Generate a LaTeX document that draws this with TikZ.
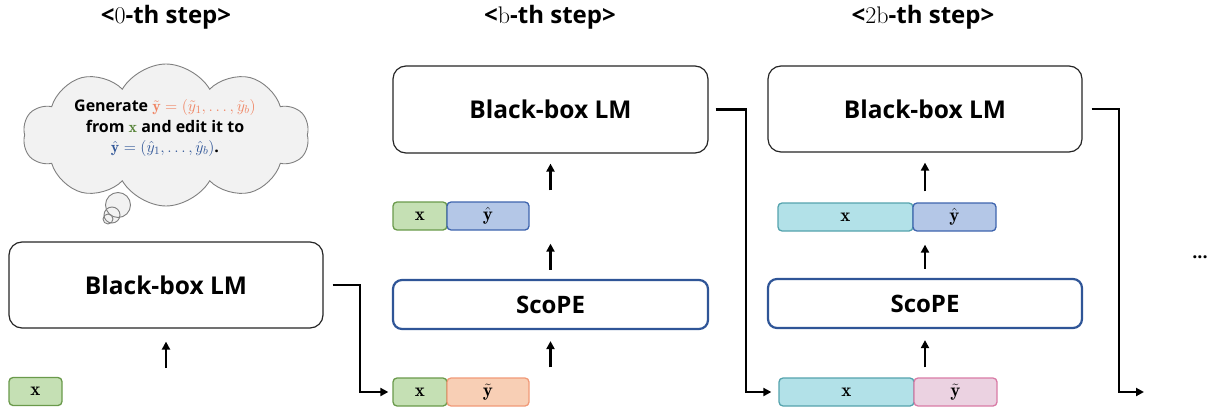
\RequirePackage{fix-cm}
\documentclass[tikz,border=0pt]{standalone}
\usepackage{amsmath}
\usepackage{fontspec}
\newfontfamily\ui{Open Sans}
\usetikzlibrary{arrows.meta,shapes.symbols,calc}
\definecolor{xgreenf}{HTML}{C5E0B4}
\definecolor{xgreend}{HTML}{6A9A4B}
\definecolor{yhatf}{HTML}{B4C7E7}
\definecolor{yhatd}{HTML}{3E64AE}
\definecolor{ytilf}{HTML}{F8CFB5}
\definecolor{ytild}{HTML}{F19A78}
\definecolor{tealf}{HTML}{B2E1E8}
\definecolor{teald}{HTML}{55A3AD}
\definecolor{pinkf}{HTML}{EBD2E1}
\definecolor{pinkd}{HTML}{D97BA6}
\definecolor{scopeblue}{HTML}{2F5597}
\definecolor{cloudf}{HTML}{F2F2F2}
\definecolor{cloudd}{HTML}{7F7F7F}
\definecolor{txtorange}{HTML}{F08462}
\definecolor{txtgreen}{HTML}{548235}
\definecolor{txtblue}{HTML}{2F5597}
\begin{document}
\begin{tikzpicture}[x=1pt,y=-1pt,
  lmbox/.style={draw=black!85, line width=1.2pt, rounded corners=13pt, fill=white,
    inner sep=0pt, font=\ui\bfseries\fontsize{24.5}{28}\selectfont},
  scbox/.style={draw=scopeblue, line width=2.2pt, rounded corners=9pt, fill=white,
    inner sep=0pt, font=\ui\bfseries\fontsize{24}{28}\selectfont},
  tok/.style={line width=1.3pt, rounded corners=4pt, minimum height=28pt,
    inner sep=0pt, font=\fontsize{19}{22}\selectfont},
  xg/.style={tok, draw=xgreend, fill=xgreenf},
  xt/.style={tok, draw=teald, fill=tealf},
  yh/.style={tok, draw=yhatd, fill=yhatf},
  yt/.style={tok, draw=ytild, fill=ytilf},
  yp/.style={tok, draw=pinkd, fill=pinkf},
  arr/.style={line width=2.2pt, -{Triangle[length=8pt,width=8pt]}},
  title/.style={font=\ui\bfseries\fontsize{24}{28}\selectfont, inner sep=0pt},
  bubble/.style={draw=cloudd, line width=0.9pt, fill=cloudf}
]
\useasboundingbox (0,0) rectangle (1218,412);

% titles
\node[title] (t0) at (166,17) {<$0$-th step>};
\node[title] (t1) at (550,17) {<$\mathrm{b}$-th step>};
\node[title] (t2) at (923,17) {<$2\mathrm{b}$-th step>};

% thought bubbles and cloud
\fill[cloudf] (118,205) circle[radius=12.5pt];
\fill[cloudf] (112,215) circle[radius=8pt];
\fill[cloudf] (108,219) circle[radius=5pt];
\draw[cloudd, line width=0.9pt] (118,205) circle[radius=12.5pt];
\draw[cloudd, line width=0.9pt] (112,215) circle[radius=8pt];
\draw[cloudd, line width=0.9pt] (108,219) circle[radius=5pt];
\node[cloud, cloud puffs=10, cloud puff arc=120, cloud ignores aspect, bubble,
  minimum width=286pt, minimum height=142pt, inner sep=0pt] (cl) at (166,135) {};
\node[align=center, font=\ui\bfseries\fontsize{16}{20.5}\selectfont, inner sep=0pt] (ct) at (165,128)
  {Generate \textcolor{txtorange}{$\tilde{\mathbf{y}}=(\tilde{y}_1,\dots,\tilde{y}_b)$}\\
   from \textcolor{txtgreen}{$\mathbf{x}$} and edit it to\\
   \textcolor{txtblue}{$\hat{\mathbf{y}}=(\hat{y}_1,\dots,\hat{y}_b)$}.};

% column 0
\node[lmbox, minimum width=314pt, minimum height=86pt] (lm0) at (166,285) {Black-box LM};
\node[xg, minimum width=53pt] (x0) at (35.5,391.5) {$\mathbf{x}$};
\coordinate (a0) at (166,368);
\draw[arr, shorten >=13pt] (a0) -- (lm0.south -| a0);

% column 1
\node[lmbox, minimum width=315pt, minimum height=87pt] (lm1) at (550.5,109.5) {Black-box LM};
\node[scbox, minimum width=315pt, minimum height=49pt] (sc1) at (550.5,304.5) {ScoPE};
\node[xg, minimum width=54pt] (x1a) at (420,216) {$\mathbf{x}$};
\node[yh, minimum width=82pt] (yh1) at (488,216) {$\hat{\mathbf{y}}$};
\node[xg, minimum width=54pt] (x1b) at (420,392) {$\mathbf{x}$};
\node[yt, minimum width=82pt] (yt1) at (488,392) {$\tilde{\mathbf{y}}$};
\draw[arr, shorten <=10pt, shorten >=11pt] (sc1.south |- x1b.north) -- (sc1.south);
\draw[arr, shorten <=9pt, shorten >=13pt] (sc1.north) -- (sc1.north |- yh1.south);
\draw[arr, shorten <=11pt, shorten >=10pt] (lm1.south |- yh1.north) -- (lm1.south);

% column 2
\node[lmbox, minimum width=314pt, minimum height=86pt] (lm2) at (925,109) {Black-box LM};
\node[scbox, minimum width=314pt, minimum height=49pt] (sc2) at (925,303.5) {ScoPE};
\node[xt, minimum width=135pt] (x2a) at (845.5,217) {$\mathbf{x}$};
\node[yh, minimum width=83pt] (yh2) at (954.5,217) {$\hat{\mathbf{y}}$};
\node[xt, minimum width=135pt] (x2b) at (846.5,392) {$\mathbf{x}$};
\node[yp, minimum width=83pt] (yt2) at (955.5,392) {$\tilde{\mathbf{y}}$};
\draw[arr, shorten <=10pt, shorten >=11pt] (sc2.south |- x2b.north) -- (sc2.south);
\draw[arr, shorten <=9pt, shorten >=13pt] (sc2.north) -- (sc2.north |- yh2.south);
\draw[arr, shorten <=11pt, shorten >=10pt] (lm2.south |- yh2.north) -- (lm2.south);

% connectors between steps
\draw[arr] ([xshift=9pt]lm0.east) -- ++(27,0) |- ([xshift=-4pt]x1b.west);
\draw[arr] ([xshift=7pt]lm1.east) -- ++(30,0) |- ([xshift=-7pt]x2b.west);
\coordinate (cont) at (1144,392);
\draw[arr] ([xshift=9pt]lm2.east) -- ++(27,0) |- (cont);

\node[font=\ui\bfseries\fontsize{18}{20}\selectfont, inner sep=0pt] (dots) at (1200,257) {...};
\end{tikzpicture}
\end{document}
